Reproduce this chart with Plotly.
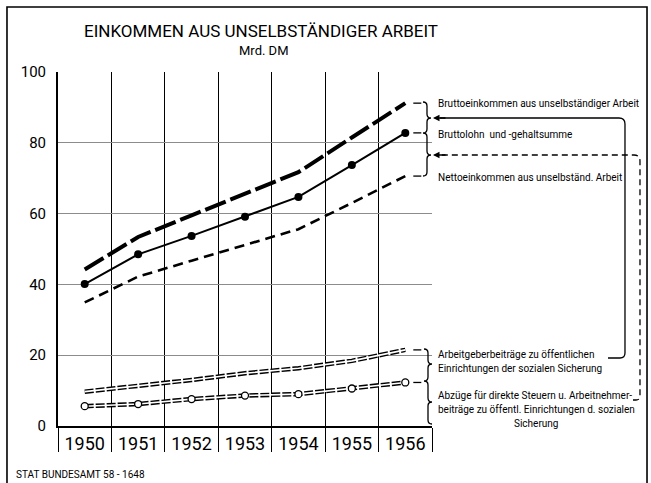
import plotly.graph_objects as go

# Einkommen aus unselbständiger Arbeit, Mrd. DM
YEARS = [1950, 1951, 1952, 1953, 1954, 1955, 1956]
BRUTTOEINKOMMEN = [44.2, 53.4, 59.5, 65.7, 71.7, 81.5, 91.2]
BRUTTOLOHN = [40.1, 48.5, 53.7, 59.1, 64.7, 73.7, 82.8]
NETTOEINKOMMEN = [34.9, 42.2, 46.7, 51.1, 55.6, 63.0, 70.6]
ARBEITGEBERBEITRAEGE = [9.7, 11.3, 13.0, 14.9, 16.3, 18.4, 21.5]
ABZUEGE = [5.6, 6.2, 7.6, 8.6, 9.0, 10.6, 12.3]

Y_TICKS = [0, 20, 40, 60, 80, 100]
COLUMN_EDGES = [y - 0.5 for y in YEARS] + [YEARS[-1] + 0.5]

FONT = "Roboto, Liberation Sans, sans-serif"

W, H = 651, 483
L, R, T, B = 58, 432, 72, 426   # plot area in pixels


def px(x):
    return (x - L) / (R - L)


def py(y):
    return (B - y) / (B - T)


def path(points):
    """build an svg path in paper coords from pixel commands"""
    out = []
    for p in points:
        if isinstance(p, str):
            out.append(p)
        else:
            out.append(f"{px(p[0]):.4f},{py(p[1]):.4f}")
    return " ".join(out)


fig = go.Figure()

# ladder style lines (black rails with white core)
for values, circles in [(ARBEITGEBERBEITRAEGE, False), (ABZUEGE, True)]:
    fig.add_trace(go.Scatter(
        x=YEARS, y=values, mode='lines',
        line=dict(color='black', width=4.5, dash='9px,2px'),
        hoverinfo='skip', showlegend=False
    ))
    fig.add_trace(go.Scatter(
        x=YEARS, y=values, mode='lines+markers' if circles else 'lines',
        line=dict(color='white', width=1.6),
        marker=dict(size=7, color='white', line=dict(color='black', width=1.3)),
        hoverinfo='skip', showlegend=False
    ))

fig.add_trace(go.Scatter(
    x=YEARS, y=NETTOEINKOMMEN, mode='lines',
    line=dict(color='black', width=2.6, dash='10px,6px'),
    name='Nettoeinkommen', showlegend=False
))
fig.add_trace(go.Scatter(
    x=YEARS, y=BRUTTOLOHN, mode='lines+markers',
    line=dict(color='black', width=2),
    marker=dict(size=8, color='black'),
    name='Bruttolohn', showlegend=False
))
fig.add_trace(go.Scatter(
    x=YEARS, y=BRUTTOEINKOMMEN, mode='lines',
    line=dict(color='black', width=4, dash='22px,5px'),
    name='Bruttoeinkommen', showlegend=False
))

shapes = []
# short dashes from line ends to the braces
for series in [BRUTTOEINKOMMEN, BRUTTOLOHN, NETTOEINKOMMEN, ARBEITGEBERBEITRAEGE, ABZUEGE]:
    shapes.append(dict(type='line', xref='x', yref='y',
                       x0=YEARS[-1] + 0.15, x1=YEARS[-1] + 0.3,
                       y0=series[-1], y1=series[-1],
                       line=dict(color='black', width=1.3)))

# braces
shapes.append(dict(type='path', xref='paper', yref='paper', line=dict(color='black', width=1.3),
                   path=path(['M', (423, 102), 'Q', (427, 102), (427, 106), 'L', (427, 114),
                              'Q', (427, 118), (431, 118), 'Q', (427, 118), (427, 122),
                              'L', (427, 129), 'Q', (427, 133), (423, 133), 'Q', (427, 133), (427, 137),
                              'L', (427, 151), 'Q', (427, 155), (431, 155), 'Q', (427, 155), (427, 159),
                              'L', (427, 172), 'Q', (427, 176), (423, 176)])))
shapes.append(dict(type='path', xref='paper', yref='paper', line=dict(color='black', width=1.3),
                   path=path(['M', (424, 349), 'Q', (428, 349), (428, 353), 'L', (428, 360),
                              'Q', (428, 364), (432, 364), 'Q', (428, 364), (428, 368),
                              'L', (428, 377), 'Q', (428, 381), (424, 381), 'Q', (428, 381), (428, 385),
                              'L', (428, 398), 'Q', (428, 402), (432, 402), 'Q', (428, 402), (428, 406),
                              'L', (428, 420), 'Q', (428, 424), (432, 424)])))

# connecting brackets on the right
shapes.append(dict(type='path', xref='paper', yref='paper', line=dict(color='black', width=1.3),
                   path=path(['M', (608, 358), 'L', (620, 358), 'Q', (625, 358), (625, 353),
                              'L', (625, 124), 'Q', (625, 118), (619, 118), 'L', (440, 118)])))
shapes.append(dict(type='path', xref='paper', yref='paper',
                   line=dict(color='black', width=1.3, dash='6px,4px'),
                   path=path(['M', (633, 400), 'L', (636, 400), 'Q', (640, 400), (640, 396),
                              'L', (640, 161), 'Q', (640, 155), (634, 155), 'L', (440, 155)])))

# page frame
shapes.append(dict(type='path', xref='paper', yref='paper', line=dict(color='black', width=1.6),
                   path=path(['M', (7, 490), 'L', (7, 7), 'L', (647, 7), 'L', (647, 490)])))

annotations = []
for yy in [118, 155]:
    annotations.append(dict(xref='paper', yref='paper', x=px(433), y=py(yy), text='',
                            showarrow=True, ax=14, ay=0, arrowhead=2, arrowsize=1,
                            arrowwidth=1.3, arrowcolor='black', standoff=0))

labels = [
    (103, 'Bruttoeinkommen aus unselbständiger Arbeit', 436, 'left'),
    (134, 'Bruttolohn  und -gehaltsumme', 436, 'left'),
    (177, 'Nettoeinkommen aus unselbständ. Arbeit', 436, 'left'),
    (354, 'Arbeitgeberbeiträge zu öffentlichen', 436, 'left'),
    (368, 'Einrichtungen der sozialen Sicherung', 436, 'left'),
    (395, 'Abzüge für direkte Steuern u. Arbeitnehmer-', 436, 'left'),
    (409, 'beiträge zu öffentl. Einrichtungen d. sozialen', 436, 'left'),
    (423, 'Sicherung', 536, 'center'),
]
for yy, txt, xx, anchor in labels:
    annotations.append(dict(xref='paper', yref='paper', x=px(xx), y=py(yy), text=txt,
                            showarrow=False, xanchor=anchor, yanchor='middle',
                            font=dict(family=FONT, size=10, color='black')))

annotations.append(dict(xref='paper', yref='paper', x=px(264), y=py(50), text='Mrd. DM',
                        showarrow=False, xanchor='center', yanchor='middle',
                        font=dict(family=FONT, size=13, color='black')))
annotations.append(dict(xref='paper', yref='paper', x=px(14), y=py(474), text='STAT BUNDESAMT 58 - 1648',
                        showarrow=False, xanchor='left', yanchor='middle',
                        font=dict(family=FONT, size=10, color='black')))

fig.update_layout(
    width=W, height=H,
    margin=dict(l=L, r=W - R, t=T, b=H - B, autoexpand=False),
    paper_bgcolor='white', plot_bgcolor='white',
    title=dict(text='EINKOMMEN AUS UNSELBSTÄNDIGER ARBEIT', x=261 / W, xanchor='center',
               y=1 - 31 / H, yanchor='middle',
               font=dict(family=FONT, size=17, color='black')),
    xaxis=dict(
        range=[COLUMN_EDGES[0], COLUMN_EDGES[-1]],
        tickvals=YEARS, ticktext=[str(y) for y in YEARS],
        showgrid=False, zeroline=False, ticks='',
        showline=True, linecolor='black', linewidth=2,
        tickfont=dict(family=FONT, size=18, color='black'),
        minor=dict(tickvals=COLUMN_EDGES, showgrid=True, gridcolor='black', gridwidth=1.4,
                   ticks='outside', ticklen=24, tickcolor='black', tickwidth=1.4),
    ),
    yaxis=dict(
        range=[0, 100], tickvals=Y_TICKS,
        showgrid=True, gridcolor='#8c8c8c', gridwidth=1, zeroline=False,
        showline=True, linecolor='black', linewidth=2, ticks='',
        ticklabelstandoff=7,
        tickfont=dict(family=FONT, size=15, color='black'),
    ),
    shapes=shapes,
    annotations=annotations,
)

# the page's default body margin would shift the fixed-size figure
fig.write_html("out.html", config={'displayModeBar': False},
               post_script="document.body.style.margin = '0';")
